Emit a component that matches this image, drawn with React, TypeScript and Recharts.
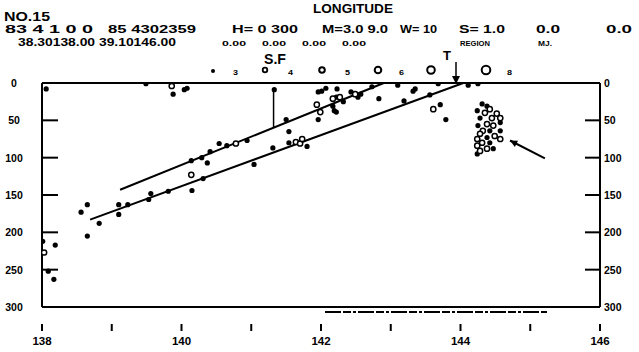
import React from "react";
import {
  ScatterChart,
  Scatter,
  XAxis,
  YAxis,
  ReferenceLine,
} from "recharts";

// longitude (deg E), depth (km)
const filledPoints: [number, number][] = [
  [138.06, 8], [139.49, 1], [139.88, 15], [140.04, 9], [140.08, 7],
  [138.01, 212], [138.19, 217], [138.09, 252], [138.17, 263],
  [138.56, 173], [138.65, 163], [138.65, 205], [138.82, 188], [139.1, 163],
  [139.1, 176], [139.23, 163], [139.53, 156], [139.56, 148], [139.81, 145],
  [140.14, 104], [140.15, 144], [140.29, 100], [140.37, 107], [140.41, 92],
  [140.54, 81], [140.65, 84], [140.94, 77], [141.04, 109], [140.31, 128],
  [141.31, 87], [141.33, 9], [141.5, 49], [141.54, 65], [141.54, 80],
  [141.8, 85], [141.96, 12], [141.96, 49], [142.01, 11], [142.07, 7],
  [142.23, 8], [142.22, 19], [142.17, 31], [142.19, 37], [142.22, 39],
  [142.32, 25], [142.43, 12], [142.53, 19], [142.57, 15], [142.73, 5],
  [142.83, 21], [143.1, 3], [143.19, 24], [143.35, 8], [143.32, 11],
  [143.56, 16], [143.71, 29], [143.79, 49], [143.68, 1], [144.11, 3],
  [144.25, 1],
  [144.31, 28], [144.38, 31], [144.24, 37], [144.28, 47], [144.57, 53],
  [144.25, 57], [144.42, 64], [144.57, 64], [144.38, 73], [144.42, 80],
  [144.47, 88], [144.24, 95],
];

const openPoints: [number, number][] = [
  [139.86, 4], [138.03, 227], [140.14, 123], [140.78, 81], [141.64, 79],
  [141.7, 81], [141.73, 75], [141.94, 29], [141.99, 39], [142.17, 21],
  [142.27, 19], [142.49, 15], [143.61, 35],
  [144.42, 35], [144.35, 40], [144.52, 41], [144.57, 47], [144.45, 47],
  [144.38, 55], [144.47, 57], [144.32, 64], [144.28, 68], [144.49, 71],
  [144.24, 75], [144.57, 75], [144.31, 80], [144.24, 84], [144.28, 91],
  [144.38, 88],
];

const upperLine: [number, number][] = [[139.12, 143], [142.9, 0]];
const lowerLine: [number, number][] = [[138.69, 183], [144.04, 0]];
const sfLine: [number, number][] = [[141.32, 7], [141.32, 60]];
const clusterArrow: [number, number][] = [[145.21, 101], [144.71, 77]];

const xTicks = [138, 139, 140, 141, 142, 143, 144, 145, 146];
const xLabelTicks = [138, 140, 142, 144, 146];
const yTicks = [0, 50, 100, 150, 200, 250, 300];

const toXY = (arr: [number, number][]) => arr.map(([x, y]) => ({ x, y }));
const seg = (arr: [number, number][]) => arr.map(([x, y]) => ({ x, y }));

const FONT = "'Liberation Sans', Arial, sans-serif";

const LeftTick = (p: any) => (
  <g>
    <line x1={p.x} x2={p.x + 16} y1={p.y} y2={p.y} stroke="#000" strokeWidth={2} />
    <text x={p.x - 28} y={p.y + 4} textAnchor="middle" fontSize={10.5} fontWeight="bold" fontFamily={FONT} fill="#000">
      {p.payload.value}
    </text>
  </g>
);

const RightTick = (p: any) => (
  <g>
    <line x1={p.x - 15} x2={p.x} y1={p.y} y2={p.y} stroke="#000" strokeWidth={2} />
    <text x={p.x + 4} y={p.y + 4} textAnchor="start" fontSize={10.5} fontWeight="bold" fontFamily={FONT} fill="#000">
      {p.payload.value}
    </text>
  </g>
);

const BottomTick = (p: any) => (
  <g>
    <line x1={p.x} x2={p.x} y1={p.y + 17} y2={p.y + 24} stroke="#000" strokeWidth={2} />
    {xLabelTicks.includes(p.payload.value) && (
      <text x={p.x} y={p.y + 38} textAnchor="middle" fontSize={11.5} fontWeight="bold" fontFamily={FONT} fill="#000">
        {p.payload.value}
      </text>
    )}
  </g>
);

const FilledDot = (p: any) => <circle cx={p.cx} cy={p.cy} r={2.6} fill="#000" />;
const OpenDot = (p: any) => (
  <circle cx={p.cx} cy={p.cy} r={2.6} fill="#fff" stroke="#000" strokeWidth={1.5} />
);

const ArrowShape = (p: any) => {
  const { x1, y1, x2, y2 } = p;
  const ang = Math.atan2(y2 - y1, x2 - x1);
  const L = 8;
  const a1 = ang + Math.PI - 0.45;
  const a2 = ang + Math.PI + 0.45;
  return (
    <g>
      <line x1={x1} y1={y1} x2={x2} y2={y2} stroke="#000" strokeWidth={2} />
      <polygon
        points={`${x2},${y2} ${x2 + L * Math.cos(a1)},${y2 + L * Math.sin(a1)} ${x2 + L * Math.cos(a2)},${y2 + L * Math.sin(a2)}`}
        fill="#000"
      />
    </g>
  );
};

const T = (props: any) => (
  <text fontFamily={FONT} fontWeight="bold" fill="#000" lengthAdjust="spacingAndGlyphs" {...props} />
);

export default function App() {
  return (
    <div style={{ position: "absolute", left: 0, top: 0, width: 639, height: 352, background: "#fff" }}>
      <ScatterChart
        width={639}
        height={352}
        margin={{ top: 83, right: 0, bottom: 0, left: 0 }}
      >
        <XAxis
          type="number"
          dataKey="x"
          domain={[138, 146]}
          ticks={xTicks}
          interval={0}
          tickSize={0}
          tickMargin={0}
          tick={BottomTick}
          axisLine={{ stroke: "#000", strokeWidth: 2 }}
          height={45}
          allowDataOverflow
        />
        <YAxis
          yAxisId="l"
          type="number"
          dataKey="y"
          domain={[0, 300]}
          reversed
          ticks={yTicks}
          interval={0}
          tickSize={0}
          tickMargin={0}
          tick={LeftTick}
          axisLine={{ stroke: "#000", strokeWidth: 2 }}
          width={42}
          allowDataOverflow
        />
        <YAxis
          yAxisId="r"
          orientation="right"
          type="number"
          domain={[0, 300]}
          reversed
          ticks={yTicks}
          interval={0}
          tickSize={0}
          tickMargin={0}
          tick={RightTick}
          axisLine={{ stroke: "#000", strokeWidth: 2 }}
          width={39}
          allowDataOverflow
        />
        <ReferenceLine yAxisId="l" y={0} stroke="#000" strokeWidth={2} />
        <ReferenceLine yAxisId="l" segment={seg(upperLine)} stroke="#000" strokeWidth={2} ifOverflow="visible" />
        <ReferenceLine yAxisId="l" segment={seg(lowerLine)} stroke="#000" strokeWidth={2} ifOverflow="visible" />
        <ReferenceLine yAxisId="l" segment={seg(sfLine)} stroke="#000" strokeWidth={1.5} ifOverflow="visible" />
        <ReferenceLine yAxisId="l" segment={seg(clusterArrow)} shape={ArrowShape} ifOverflow="visible" />
        <Scatter yAxisId="l" data={toXY(filledPoints)} shape={FilledDot} isAnimationActive={false} />
        <Scatter yAxisId="l" data={toXY(openPoints)} shape={OpenDot} isAnimationActive={false} />
      </ScatterChart>

      <svg
        width={639}
        height={352}
        style={{ position: "absolute", left: 0, top: 0, pointerEvents: "none" }}
      >
        <T x={4} y={21} fontSize={13} textLength={46}>NO.15</T>
        <T x={313} y={13} fontSize={13} textLength={80}>LONGITUDE</T>

        <T x={5} y={33} fontSize={11} textLength={88}>83 4 1 0 0</T>
        <T x={108} y={33} fontSize={11} textLength={88}>85 4302359</T>
        <T x={232} y={33} fontSize={11} textLength={66}>H= 0 300</T>
        <T x={322} y={33} fontSize={11} textLength={66}>M=3.0 9.0</T>
        <T x={400} y={33} fontSize={11} textLength={37}>W= 10</T>
        <T x={459} y={33} fontSize={11} textLength={46}>S= 1.0</T>
        <T x={536} y={33} fontSize={11} textLength={24}>0.0</T>
        <T x={606} y={33} fontSize={11} textLength={26}>0.0</T>

        <T x={18} y={46} fontSize={11} textLength={158}>38.30138.00 39.10146.00</T>
        <T x={222} y={46} fontSize={8} textLength={24}>0.00</T>
        <T x={262} y={46} fontSize={8} textLength={24}>0.00</T>
        <T x={302} y={46} fontSize={8} textLength={24}>0.00</T>
        <T x={342} y={46} fontSize={8} textLength={24}>0.00</T>
        <T x={460} y={46} fontSize={7} textLength={30}>REGION</T>
        <T x={538} y={46} fontSize={7} textLength={14}>MJ.</T>

        <T x={264} y={64} fontSize={14} textLength={22}>S.F</T>
        <T x={443} y={60} fontSize={13} textLength={8}>T</T>
        <line x1={456} y1={62} x2={456} y2={78} stroke="#000" strokeWidth={1.5} />
        <polygon points="452,76 460,76 456,84" fill="#000" />

        <circle cx={213} cy={71} r={2} fill="#000" />
        <T x={233} y={75} fontSize={8} textLength={5}>3</T>
        <circle cx={265} cy={70} r={2.3} fill="#fff" stroke="#000" strokeWidth={1.8} />
        <T x={288} y={75} fontSize={8} textLength={5}>4</T>
        <circle cx={322} cy={70} r={2.8} fill="#fff" stroke="#000" strokeWidth={2} />
        <T x={345} y={75} fontSize={8} textLength={5}>5</T>
        <circle cx={378} cy={70} r={3.3} fill="#fff" stroke="#000" strokeWidth={2} />
        <T x={399} y={75} fontSize={8} textLength={5}>6</T>
        <circle cx={431} cy={70} r={3.8} fill="#fff" stroke="#000" strokeWidth={2} />
        <circle cx={486} cy={70} r={4.3} fill="#fff" stroke="#000" strokeWidth={2} />
        <T x={507} y={75} fontSize={8} textLength={5}>8</T>

        <line x1={325} y1={312} x2={547} y2={312} stroke="#000" strokeWidth={1.8} strokeDasharray="16 2 8 2 3 2" />
      </svg>
    </div>
  );
}
